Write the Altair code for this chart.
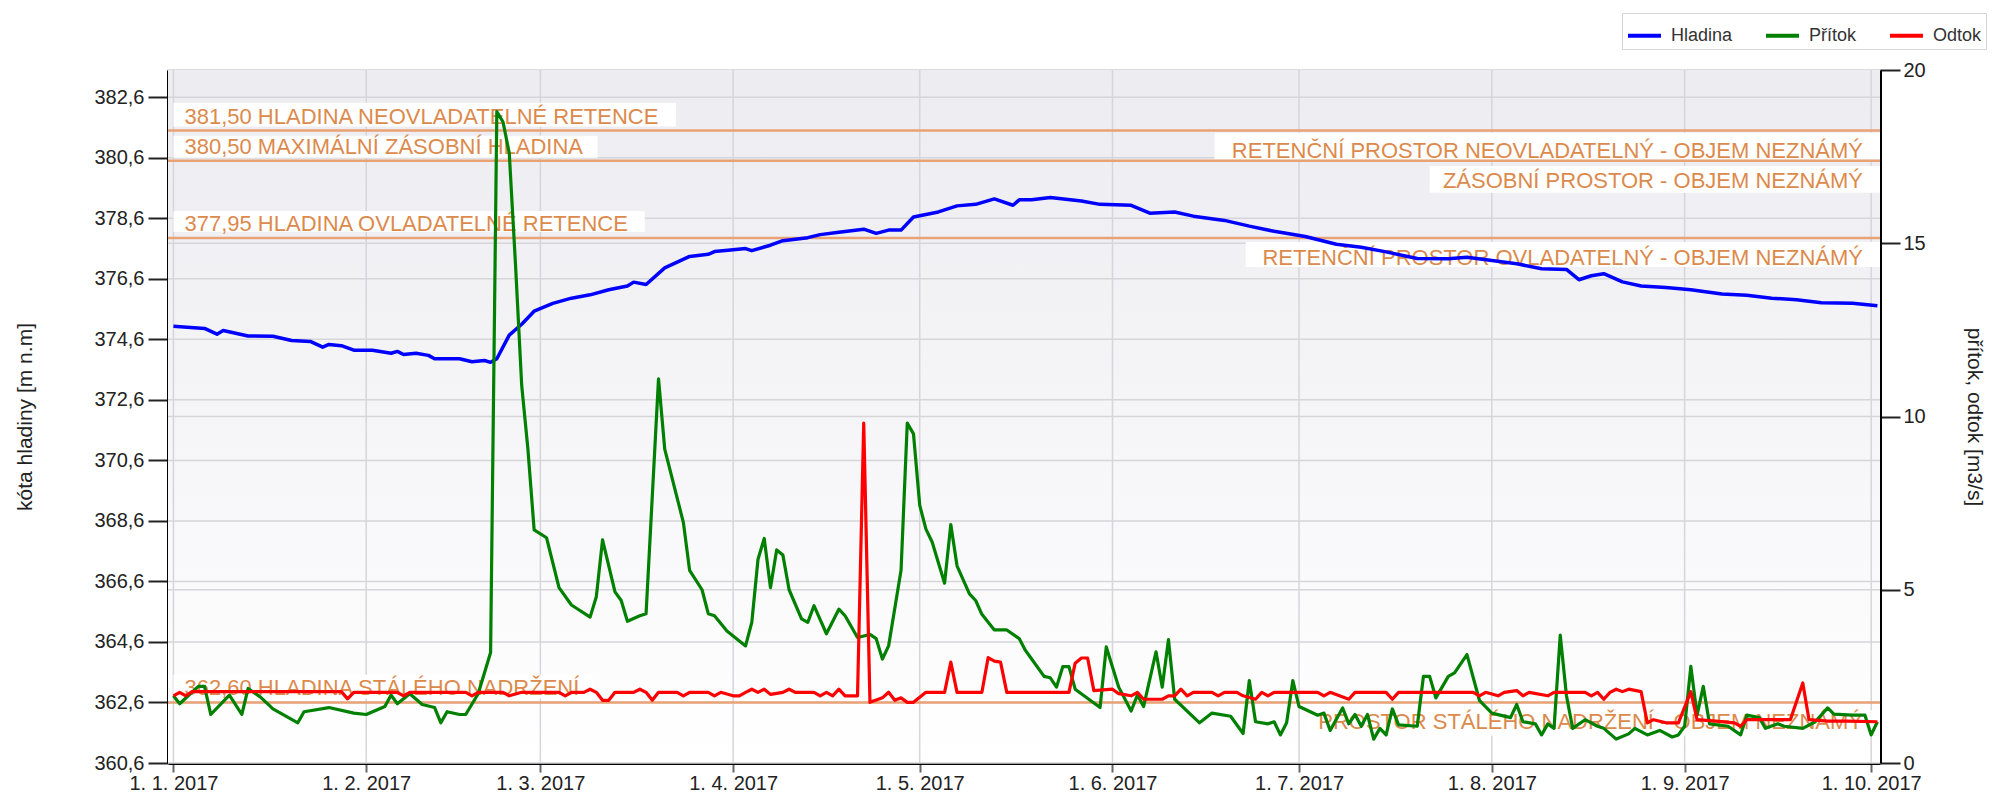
import altair as alt
import pandas as pd

# ---------------- data ----------------
BASE = pd.Timestamp("2017-01-01")

# Hladina (water level, left axis) : day offset from 1.1.2017, value [m n.m]
hladina_day = [0, 5, 7, 8, 12, 16, 19, 22, 24, 25,
               27, 29, 32, 35, 36, 37, 39, 41, 42, 46,
               48, 50, 51, 52, 54, 56, 58, 61, 64, 67,
               70, 73, 74, 76, 79, 83, 86, 87, 90, 92,
               93, 96, 98, 102, 104, 107, 111, 113, 115, 117,
               119, 123, 126, 129, 132, 135, 136, 138, 141, 146,
               149, 154, 157, 161, 164, 169, 173, 177, 182, 187,
               191, 195, 200, 205, 208, 216, 220, 224, 226, 228,
               230, 233, 236, 240, 244, 249, 253, 257, 261, 265,
               270, 274]
hladina_val = [375.03, 374.96, 374.77, 374.89, 374.71, 374.70, 374.56, 374.53, 374.34, 374.43,
               374.39, 374.24, 374.24, 374.14, 374.20, 374.10, 374.14, 374.07, 373.96, 373.96,
               373.86, 373.90, 373.84, 373.96, 374.74, 375.10, 375.53, 375.79, 375.96, 376.07,
               376.24, 376.36, 376.49, 376.41, 376.96, 377.34, 377.41, 377.50, 377.56, 377.60,
               377.53, 377.71, 377.86, 377.96, 378.06, 378.14, 378.24, 378.10, 378.21, 378.21,
               378.64, 378.81, 379.01, 379.06, 379.24, 379.03, 379.21, 379.21, 379.29, 379.17,
               379.06, 379.03, 378.77, 378.81, 378.67, 378.53, 378.34, 378.17, 378.00, 377.74,
               377.64, 377.49, 377.27, 377.26, 377.31, 377.10, 376.93, 376.91, 376.57, 376.70,
               376.77, 376.50, 376.36, 376.31, 376.24, 376.10, 376.06, 375.96, 375.91, 375.81,
               375.79, 375.71]

# Pritok (inflow, right axis) [m3/s]
pritok_day = [0, 1, 4, 5, 6, 9, 11, 12, 14, 16,
              20, 21, 25, 29, 31, 34, 35, 36, 38, 40,
              42, 43, 44, 46, 47, 49, 51, 52, 53, 54,
              55, 56, 57, 58, 60, 62, 64, 67, 68, 69,
              71, 72, 73, 75, 76, 78, 79, 82, 83, 85,
              86, 87, 89, 92, 93, 94, 95, 96, 97, 98,
              99, 101, 102, 103, 105, 107, 108, 110, 112, 113,
              114, 115, 117, 118, 119, 120, 121, 122, 124, 125,
              126, 128, 129, 130, 132, 134, 136, 137, 138, 140,
              141, 142, 143, 144, 145, 149, 150, 152, 154, 155,
              156, 158, 159, 160, 161, 165, 167, 170, 172, 173,
              174, 176, 177, 178, 179, 180, 181, 184, 185, 186,
              188, 189, 190, 191, 192, 193, 194, 195, 196, 197,
              200, 201, 202, 203, 205, 206, 208, 210, 212, 215,
              216, 217, 219, 220, 221, 222, 223, 224, 225, 227,
              229, 230, 232, 234, 235, 237, 239, 241, 242, 243,
              244, 245, 246, 247, 250, 252, 253, 255, 256, 258,
              259, 262, 264, 266, 267, 270, 272, 273, 274]
pritok_val = [1.94, 1.71, 2.21, 2.21, 1.40, 1.96, 1.40, 2.15, 1.90, 1.56,
              1.16, 1.48, 1.60, 1.44, 1.40, 1.63, 1.96, 1.71, 2.00, 1.69,
              1.60, 1.16, 1.48, 1.40, 1.40, 2.00, 3.19, 18.8, 18.5, 17.6,
              14.4, 10.9, 9.06, 6.73, 6.50, 5.06, 4.56, 4.21, 4.80, 6.44,
              4.94, 4.69, 4.09, 4.25, 4.31, 11.09, 9.06, 6.94, 5.56, 5.00,
              4.31, 4.25, 3.81, 3.38, 4.06, 5.88, 6.48, 5.06, 6.15, 6.00,
              5.00, 4.16, 4.06, 4.54, 3.73, 4.44, 4.25, 3.62, 3.71, 3.59,
              3.00, 3.38, 5.56, 9.81, 9.50, 7.44, 6.75, 6.38, 5.19, 6.88,
              5.69, 4.88, 4.69, 4.29, 3.84, 3.84, 3.59, 3.25, 3.00, 2.50,
              2.46, 2.19, 2.78, 2.78, 2.13, 1.60, 3.35, 2.19, 1.50, 1.96,
              1.63, 3.21, 2.19, 3.56, 1.84, 1.16, 1.44, 1.35, 0.85, 2.38,
              1.19, 1.13, 1.19, 0.81, 1.16, 2.38, 1.63, 1.38, 1.44, 0.94,
              1.59, 1.13, 1.40, 1.06, 1.40, 0.69, 1.00, 0.81, 1.56, 1.10,
              1.06, 2.50, 2.50, 1.88, 2.50, 2.60, 3.13, 1.81, 1.44, 1.31,
              1.69, 1.19, 1.13, 0.81, 1.13, 1.00, 3.69, 1.94, 1.00, 1.25,
              1.06, 1.00, 0.69, 0.84, 1.00, 0.81, 0.94, 0.75, 0.81, 1.06,
              2.79, 1.38, 2.21, 1.13, 1.06, 0.81, 1.38, 1.31, 1.00, 1.13,
              1.06, 1.00, 1.19, 1.59, 1.41, 1.38, 1.38, 0.81, 1.19]

# Odtok (outflow, right axis) [m3/s]
odtok_day = [0, 1, 2, 3, 27, 28, 29, 36, 37, 38,
             47, 48, 49, 53, 54, 56, 62, 63, 64, 66,
             67, 68, 69, 70, 71, 74, 75, 76, 77, 78,
             81, 82, 83, 86, 87, 88, 90, 91, 92, 93,
             94, 95, 96, 98, 99, 100, 103, 104, 105, 106,
             107, 108, 110, 111, 112, 114, 115, 116, 117, 118,
             119, 121, 124, 125, 126, 130, 131, 132, 133, 134,
             144, 145, 146, 147, 148, 151, 152, 154, 155, 156,
             159, 160, 161, 162, 163, 164, 167, 168, 169, 171,
             172, 174, 175, 176, 177, 184, 185, 186, 189, 190,
             195, 196, 197, 209, 210, 211, 213, 214, 216, 217,
             218, 221, 222, 227, 228, 229, 230, 231, 232, 233,
             234, 236, 237, 238, 240, 242, 244, 245, 248, 251,
             252, 253, 260, 262, 263, 266, 269, 274]
odtok_val = [1.94, 2.04, 1.94, 2.06, 2.06, 1.85, 2.04, 2.04, 1.94, 2.04,
             2.04, 1.94, 2.04, 2.04, 1.94, 2.04, 2.04, 1.94, 2.04, 2.04,
             2.13, 2.04, 1.81, 1.81, 2.04, 2.04, 2.13, 2.04, 1.81, 2.04,
             2.04, 1.94, 2.04, 2.04, 1.94, 2.04, 1.94, 1.94, 2.04, 2.13,
             2.04, 2.13, 1.98, 2.04, 2.13, 2.04, 2.04, 1.94, 2.04, 1.94,
             2.13, 1.94, 1.94, 9.81, 1.75, 1.88, 2.04, 1.81, 1.88, 1.75,
             1.75, 2.04, 2.04, 2.91, 2.04, 2.04, 3.04, 2.94, 2.91, 2.04,
             2.04, 2.88, 3.03, 3.03, 2.09, 2.13, 2.00, 1.94, 2.04, 1.84,
             1.84, 1.94, 1.94, 2.13, 1.94, 2.04, 2.04, 1.94, 2.04, 2.04,
             1.94, 1.84, 2.04, 1.94, 2.04, 2.04, 1.94, 2.04, 1.84, 2.04,
             2.04, 1.84, 2.04, 2.04, 1.94, 2.04, 1.94, 2.04, 2.09, 1.94,
             2.04, 1.94, 2.04, 2.04, 1.94, 2.04, 1.84, 2.04, 2.13, 2.06,
             2.13, 2.06, 1.16, 1.25, 1.16, 1.16, 2.06, 1.25, 1.21, 1.16,
             1.06, 1.25, 1.25, 2.31, 1.25, 1.21, 1.21, 1.19]

series_names = ["Hladina", "Přítok", "Odtok"]
series_colors = ["#0000ff", "#008000", "#ff0000"]

month_starts = ["2017-01-01", "2017-02-01", "2017-03-01", "2017-04-01", "2017-05-01",
                "2017-06-01", "2017-07-01", "2017-08-01", "2017-09-01", "2017-10-01"]
left_ticks = [360.6, 362.6, 364.6, 366.6, 368.6, 370.6, 372.6, 374.6, 376.6, 378.6, 380.6, 382.6]
right_ticks = [0, 5, 10, 15, 20]

# reservoir levels and their captions
level_val = [381.5, 380.5, 377.95, 362.6]
level_left_text = ["381,50 HLADINA NEOVLADATELNÉ RETENCE",
                   "380,50 MAXIMÁLNÍ ZÁSOBNÍ HLADINA",
                   "377,95 HLADINA OVLADATELNÉ RETENCE",
                   "362,60 HLADINA STÁLÉHO NADRŽENÍ"]
level_right_text = ["RETENČNÍ PROSTOR NEOVLADATELNÝ - OBJEM NEZNÁMÝ",
                    "ZÁSOBNÍ PROSTOR - OBJEM NEZNÁMÝ",
                    "RETENČNÍ PROSTOR OVLADATELNÝ - OBJEM NEZNÁMÝ",
                    "PROSTOR STÁLÉHO NADRŽENÍ - OBJEM NEZNÁMÝ"]

# white caption boxes (data units)
left_box_end = ["2017-03-22T19:00:00Z", "2017-03-10T05:00:00Z",
                "2017-03-17T19:00:00Z", "2017-03-09T10:00:00Z"]
left_box_lo = [381.63, 380.60, 378.15, 362.73]
left_box_hi = [382.42, 381.33, 378.84, 363.52]
right_box_start = ["2017-06-17T10:00:00Z", "2017-07-22T00:00:00Z",
                   "2017-06-22T10:00:00Z", "2017-07-01T22:00:00Z"]
right_box_hi = [381.43, 380.33, 377.82, 362.34]
right_box_lo = [380.54, 379.44, 376.99, 361.51]

X_START = "2016-12-31T03:00:00Z"
X_END = "2017-10-02T10:00:00Z"
LEFT_DOMAIN = [360.6, 383.5]
RIGHT_DOMAIN = [0, 20]

# ---------------- helpers ----------------
def ms(s):
    t = pd.Timestamp(s)
    if t.tzinfo is None:
        t = t.tz_localize("UTC")
    return int(t.value // 10**6)


def day_str(d):
    return (BASE + pd.Timedelta(days=d)).strftime("%Y-%m-%d")


df_h = pd.DataFrame({"date": [day_str(d) for d in hladina_day], "val": hladina_val, "series": "Hladina"})
df_p = pd.DataFrame({"date": [day_str(d) for d in pritok_day], "val": pritok_val, "series": "Přítok"})
df_o = pd.DataFrame({"date": [day_str(d) for d in odtok_day], "val": odtok_val, "series": "Odtok"})
df_months = pd.DataFrame({"date": month_starts})
df_lt = pd.DataFrame({"v": left_ticks})
df_rt = pd.DataFrame({"v": right_ticks[1:-1]})
df_levels = pd.DataFrame({"v": level_val, "tl": level_left_text, "tr": level_right_text,
                          "xl": "2017-01-01", "xr": X_END})
df_box_l = pd.DataFrame({"x0": "2017-01-01", "x1": left_box_end, "lo": left_box_lo, "hi": left_box_hi})
df_box_r = pd.DataFrame({"x0": right_box_start, "x1": X_END, "lo": right_box_lo, "hi": right_box_hi})

FONT = "Liberation Sans"
GRID = "#d6d6da"
REF = "#e8a274"
TXT = "#dc8a4c"

x_scale = alt.Scale(type="utc", domain=[ms(X_START), ms(X_END)], nice=False)
left_scale = alt.Scale(domain=LEFT_DOMAIN, nice=False, zero=False)
right_scale = alt.Scale(domain=RIGHT_DOMAIN, nice=False, zero=False)
color_scale = alt.Scale(domain=series_names, range=series_colors)

x_axis = alt.Axis(values=[ms(m) for m in month_starts], format="%-d. %-m. %Y", title=None,
                  labelFontSize=20, labelColor="#222", labelPadding=1, labelFlush=False,
                  labelOverlap=False, tickSize=9, tickWidth=2, tickColor="#666",
                  domainColor="#000", domainWidth=3, grid=False)
left_axis = alt.Axis(values=left_ticks, labelExpr="replace(format(datum.value, '.1f'), '.', ',')",
                     title="kóta hladiny [m n.m]", titleX=-143, titleY=346.5, titleAngle=-90,
                     titleBaseline="middle", titleAlign="center", titleFontSize=21,
                     titleFontWeight="normal", titleColor="#222",
                     labelFontSize=20, labelColor="#222", labelPadding=4,
                     tickSize=20, tickWidth=2, tickColor="#222",
                     domainColor="#000", domainWidth=3, grid=False)
right_axis = alt.Axis(orient="right", values=right_ticks, title="přítok, odtok [m3/s]",
                      titleX=93, titleY=346.5, titleAngle=90, titleBaseline="middle",
                      titleAlign="center", titleFontSize=21, titleFontWeight="normal",
                      titleColor="#222", labelFontSize=20, labelColor="#222", labelPadding=3,
                      tickSize=20, tickWidth=2, tickColor="#222",
                      domainColor="#000", domainWidth=3, grid=False)
legend = alt.Legend(orient="none", legendX=1454, legendY=-57, direction="horizontal", columns=3,
                    title=None, symbolType="stroke", symbolSize=1089, symbolStrokeWidth=4,
                    labelFontSize=18, labelColor="#333", labelOffset=8, columnPadding=25,
                    padding=4, strokeColor="#d6d6d6", fillColor="white")


def xenc(field, axis=alt.Undefined):
    return alt.X(f"{field}:T", scale=x_scale, axis=axis)


def yleft(field, axis=alt.Undefined):
    return alt.Y(f"{field}:Q", scale=left_scale, axis=axis)


# ---------------- layers ----------------
bg = alt.Chart(pd.DataFrame({"k": [0]})).mark_rect(
    fill=alt.LinearGradient(gradient="linear",
                            stops=[alt.GradientStop(color="#ececf1", offset=0),
                                   alt.GradientStop(color="#ffffff", offset=1)],
                            x1=0, x2=0, y1=0, y2=1)
).encode(x=alt.value(0), x2=alt.value("width"), y=alt.value(0), y2=alt.value("height"))

vgrid = alt.Chart(df_months).mark_rule(color=GRID, strokeWidth=1.5).encode(
    x=xenc("date"), y=alt.value(0), y2=alt.value("height"))

hgrid_left = alt.Chart(df_lt).mark_rule(color=GRID, strokeWidth=1.5).encode(
    y=alt.Y("v:Q", scale=left_scale, axis=None), x=alt.value(0), x2=alt.value("width"))

hgrid_right = alt.Chart(df_rt).mark_rule(color=GRID, strokeWidth=1.5).encode(
    y=alt.Y("v:Q", scale=right_scale, axis=None), x=alt.value(0), x2=alt.value("width"))

boxes_l = alt.Chart(df_box_l).mark_rect(fill="white").encode(
    x=xenc("x0"), x2="x1", y=yleft("lo"), y2="hi")
boxes_r = alt.Chart(df_box_r).mark_rect(fill="white").encode(
    x=xenc("x0"), x2="x1", y=yleft("lo"), y2="hi")

rules = alt.Chart(df_levels).mark_rule(color=REF, strokeWidth=2.5).encode(
    y=yleft("v"), x=alt.value(0), x2=alt.value("width"))

text_l = alt.Chart(df_levels).mark_text(align="left", baseline="alphabetic", dx=11, dy=-7,
                                        fontSize=22, color=TXT, font=FONT).encode(
    x=xenc("xl"), y=yleft("v"), text="tl:N")
text_r = alt.Chart(df_levels).mark_text(align="right", baseline="alphabetic", dx=-17, dy=27,
                                        fontSize=22, color=TXT, font=FONT).encode(
    x=xenc("xr"), y=yleft("v"), text="tr:N")

blue = alt.Chart(df_h).mark_line(strokeWidth=3.5, strokeJoin="round").encode(
    x=xenc("date", x_axis),
    y=yleft("val", left_axis),
    color=alt.Color("series:N", scale=color_scale, legend=legend))

green = alt.Chart(df_p).mark_line(strokeWidth=3.2, strokeJoin="round").encode(
    x=xenc("date"),
    y=alt.Y("val:Q", scale=right_scale, axis=right_axis),
    color=alt.Color("series:N", scale=color_scale, legend=legend))

red = alt.Chart(df_o).mark_line(strokeWidth=3.2, strokeJoin="round").encode(
    x=xenc("date"),
    y=alt.Y("val:Q", scale=right_scale),
    color=alt.Color("series:N", scale=color_scale, legend=legend))

left_group = alt.layer(boxes_l, boxes_r, rules, text_l, text_r, blue)
right_group = alt.layer(green, red)

chart = alt.layer(bg, vgrid, hgrid_left, hgrid_right, left_group, right_group).resolve_scale(
    y="independent"
).properties(
    width=1712, height=693,
    autosize=alt.AutoSizeParams(type="none"),
    padding={"left": 160, "top": 62, "right": 113, "bottom": 30},
).configure(font=FONT).configure_view(stroke="#d0d0d0", strokeWidth=1.5)

chart.save("out.html", embed_options={"renderer": "svg", "actions": False})
